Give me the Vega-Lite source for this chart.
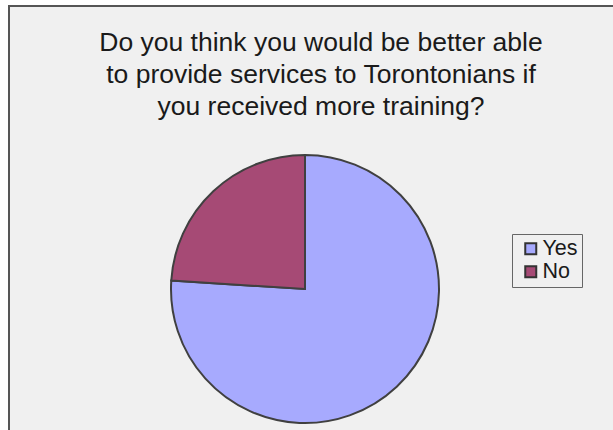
{
  "$schema": "https://vega.github.io/schema/vega-lite/v6.json",
  "autosize": "none",
  "width": 606,
  "height": 426,
  "padding": {"left": 9, "top": 6, "right": 0, "bottom": 0},
  "background": "#ffffff",
  "view": {"fill": "#F0F0F0", "stroke": "#555555", "strokeWidth": 2},
  "title": {
    "text": ["Do you think you would be better able", "to provide services to Torontonians if", "you received more training?"],
    "font": "Liberation Sans",
    "fontSize": 26.5,
    "fontWeight": "normal",
    "color": "#1a1a1a",
    "anchor": "middle",
    "baseline": "top",
    "lineHeight": 32,
    "dx": 9,
    "dy": 50,
    "offset": -64
  },
  "data": {
    "values": [
      {"answer": "Yes", "value": 76},
      {"answer": "No", "value": 24}
    ]
  },
  "mark": {"type": "arc", "outerRadius": 134, "stroke": "#404040", "strokeWidth": 2, "x": 296, "y": 283},
  "encoding": {
    "theta": {"field": "value", "type": "quantitative", "stack": true},
    "order": {"field": "answer", "sort": "descending"},
    "color": {
      "field": "answer",
      "type": "nominal",
      "scale": {"domain": ["Yes", "No"], "range": ["#A7AAFE", "#A64A75"]},
      "legend": {
        "title": null,
        "orient": "none",
        "legendX": 503,
        "legendY": 228,
        "padding": 4,
        "strokeColor": "#666666",
        "fillColor": "#F0F0F0",
        "symbolType": "square",
        "symbolSize": 121,
        "symbolOffset": 4,
        "symbolStrokeWidth": 2,
        "symbolStrokeColor": "#333333",
        "labelFont": "Liberation Sans",
        "labelFontSize": 21.5,
        "labelColor": "#1a1a1a",
        "labelOffset": 1,
        "rowPadding": 0,
        "cornerRadius": 0
      }
    }
  }
}
